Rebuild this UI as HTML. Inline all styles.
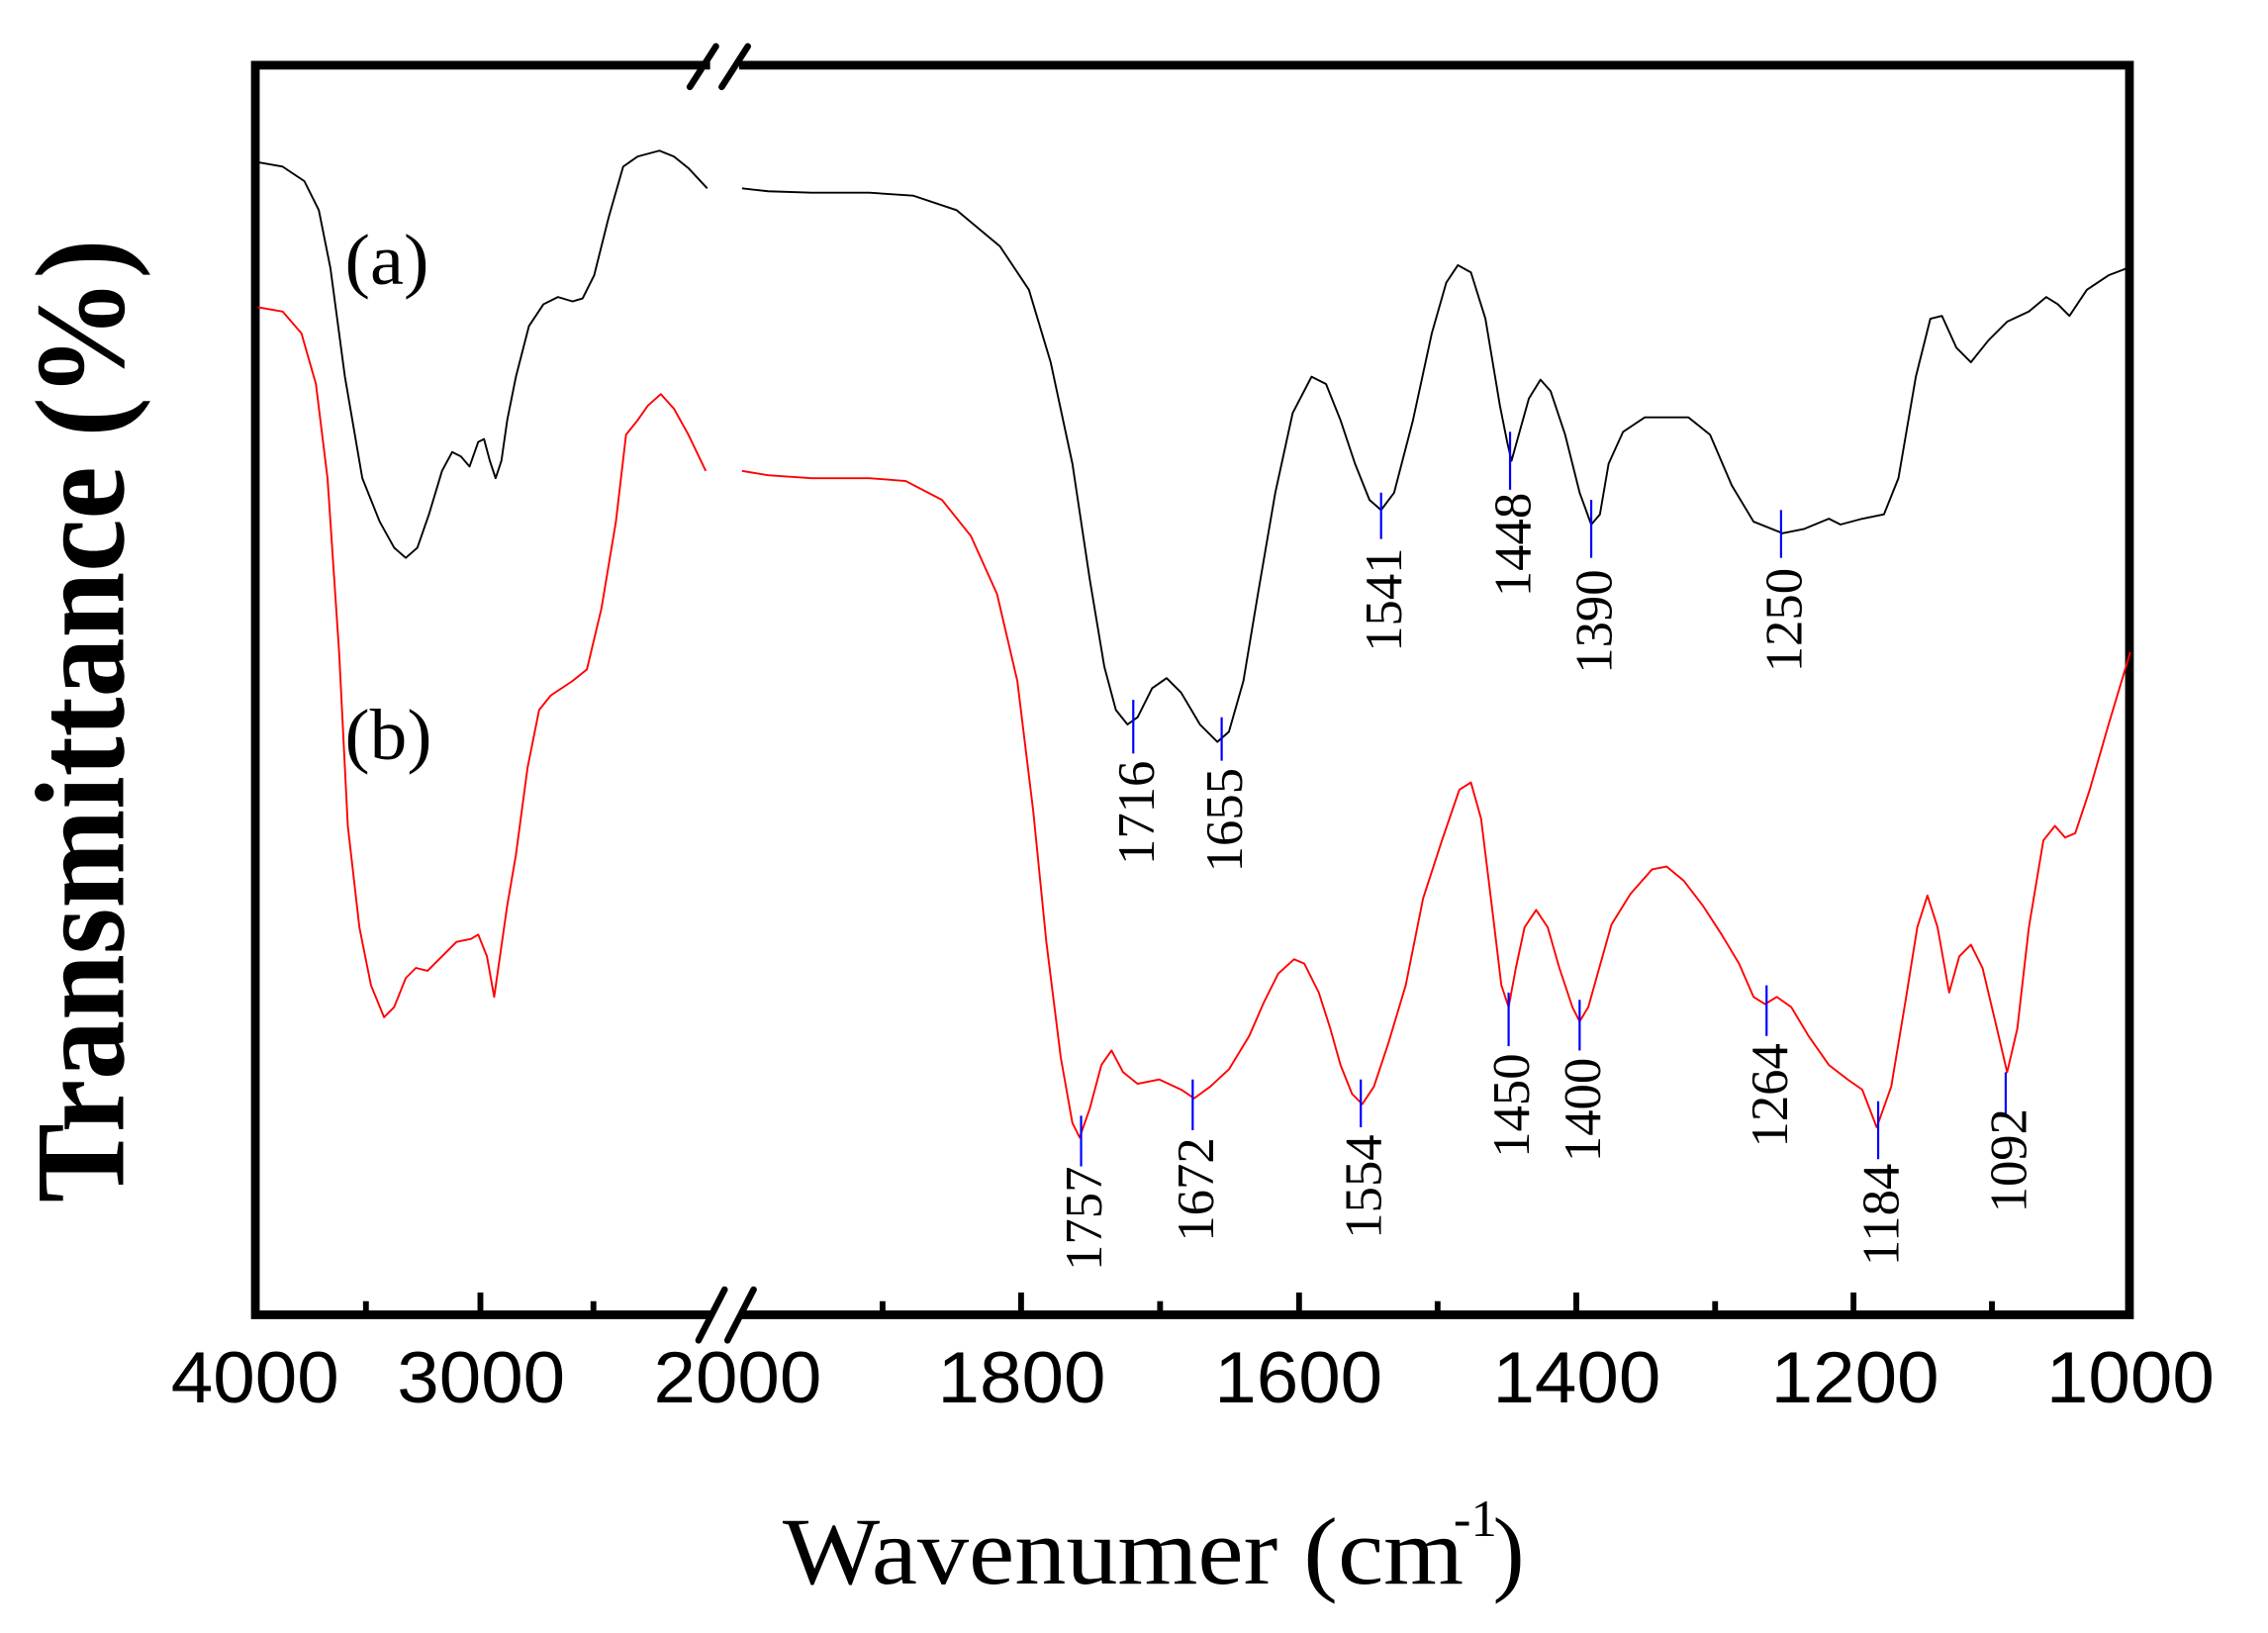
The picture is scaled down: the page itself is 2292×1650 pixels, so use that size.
<!DOCTYPE html>
<html><head><meta charset="utf-8"><style>html,body{margin:0;padding:0;background:#fff}svg{display:block}</style></head>
<body>
<svg width="2292" height="1650" viewBox="0 0 1565 1127" preserveAspectRatio="none" xmlns="http://www.w3.org/2000/svg">
<rect width="1565" height="1127" fill="#fff"/>
<rect x="176.2" y="45" width="1293.2" height="862.4" fill="none" stroke="#000" stroke-width="6"/>
<rect x="490" y="38" width="20" height="14" fill="#fff"/>
<rect x="490" y="900" width="20" height="14" fill="#fff"/>
<g stroke="#000" stroke-width="4.5" stroke-linecap="round">
<line x1="476" y1="60" x2="494" y2="32"/><line x1="498" y1="60" x2="516" y2="32"/>
<line x1="482" y1="925" x2="500" y2="890"/><line x1="502" y1="925" x2="520" y2="890"/>
</g>
<g stroke="#000" stroke-width="4">
<line x1="252.5" y1="907" x2="252.5" y2="898"/>
<line x1="331.5" y1="907" x2="331.5" y2="892"/>
<line x1="409.5" y1="907" x2="409.5" y2="898"/>
<line x1="609" y1="907" x2="609" y2="898"/>
<line x1="704.6" y1="907" x2="704.6" y2="892"/>
<line x1="800.5" y1="907" x2="800.5" y2="898"/>
<line x1="896.4" y1="907" x2="896.4" y2="892"/>
<line x1="992" y1="907" x2="992" y2="898"/>
<line x1="1087.7" y1="907" x2="1087.7" y2="892"/>
<line x1="1183.5" y1="907" x2="1183.5" y2="898"/>
<line x1="1279" y1="907" x2="1279" y2="892"/>
<line x1="1374.5" y1="907" x2="1374.5" y2="898"/>
</g>
<g font-family="Liberation Sans, sans-serif" font-size="50" text-anchor="middle" fill="#000">
<text x="176" y="968" textLength="116" lengthAdjust="spacingAndGlyphs">4000</text>
<text x="332" y="968" textLength="116" lengthAdjust="spacingAndGlyphs">3000</text>
<text x="509" y="968" textLength="116" lengthAdjust="spacingAndGlyphs">2000</text>
<text x="705" y="968" textLength="116" lengthAdjust="spacingAndGlyphs">1800</text>
<text x="896" y="968" textLength="116" lengthAdjust="spacingAndGlyphs">1600</text>
<text x="1088" y="968" textLength="116" lengthAdjust="spacingAndGlyphs">1400</text>
<text x="1280" y="968" textLength="116" lengthAdjust="spacingAndGlyphs">1200</text>
<text x="1470" y="968" textLength="116" lengthAdjust="spacingAndGlyphs">1000</text>
</g>
<text x="540" y="1093" font-family="Liberation Serif, serif" font-size="66" textLength="470" lengthAdjust="spacingAndGlyphs">Wavenumer (cm</text>
<text x="1003" y="1060" font-family="Liberation Serif, serif" font-size="36">-1</text>
<text x="1030" y="1093" font-family="Liberation Serif, serif" font-size="66">)</text>
<text transform="translate(85,830) rotate(-90)" font-family="Liberation Serif, serif" font-weight="bold" font-size="88" textLength="665" lengthAdjust="spacingAndGlyphs">Transmittance (%)</text>
<text x="238" y="196" font-family="Liberation Serif, serif" font-size="50" textLength="58" lengthAdjust="spacingAndGlyphs">(a)</text>
<text x="238" y="524" font-family="Liberation Serif, serif" font-size="50" textLength="60" lengthAdjust="spacingAndGlyphs">(b)</text>
<g fill="none" stroke-width="1.3" stroke-linejoin="round">
<polyline stroke="#000" points="178,112 195,115 210,125 220,145 228,185 238,260 250,330 262,360 272,378 280,385 288,378 296,355 305,325 312,312 318,315 324,322 330,305 334,303 338,318 342,330 346,318 350,290 356,260 365,225 375,210 385,205 395,208 402,206 410,190 420,150 430,115 440,108 455,104 465,108 475,116 488,130"/>
<polyline stroke="#000" points="512,130 530,132 560,133 600,133 630,135 660,145 690,170 710,200 725,250 740,320 752,400 762,460 770,490 778,500 785,495 795,475 805,468 815,478 828,500 840,512 848,505 858,470 868,410 880,340 892,285 905,260 915,265 925,290 935,320 945,345 953,352 962,340 975,290 988,230 998,195 1006,183 1015,188 1025,220 1035,280 1040,305 1043,318 1048,300 1055,275 1063,262 1070,270 1080,300 1090,340 1098,362 1104,355 1110,320 1120,298 1135,288 1165,288 1180,300 1195,335 1210,360 1230,368 1245,365 1262,358 1270,362 1285,358 1300,355 1310,330 1322,260 1332,220 1340,218 1350,240 1360,250 1372,235 1385,222 1400,215 1412,205 1420,210 1428,218 1440,200 1455,190 1468,185"/>
<polyline stroke="#f00" points="178,212 195,215 208,230 218,265 226,330 234,450 240,570 248,640 256,680 265,702 272,695 280,675 287,668 295,670 305,660 315,650 325,648 330,645 336,660 341,688 345,660 350,625 356,590 364,530 372,490 380,480 395,470 405,462 415,420 425,360 432,300 440,290 447,280 456,272 465,282 475,300 487,325"/>
<polyline stroke="#f00" points="512,325 530,328 560,330 600,330 625,332 650,345 670,370 688,410 702,470 713,560 722,650 732,730 740,775 745,785 752,765 760,735 767,725 775,740 785,748 800,745 815,752 824,758 835,750 848,738 862,715 872,692 882,672 893,662 900,665 910,685 918,710 925,735 933,755 940,762 948,750 958,720 970,680 982,620 995,580 1007,545 1015,540 1022,565 1030,630 1036,680 1041,695 1046,668 1052,640 1060,628 1068,640 1076,668 1085,695 1090,705 1096,695 1103,670 1112,638 1125,617 1140,600 1150,598 1162,608 1175,625 1188,645 1200,665 1210,688 1218,693 1226,688 1236,695 1248,715 1262,735 1275,745 1285,752 1295,778 1305,750 1315,690 1323,640 1330,618 1337,640 1345,685 1352,660 1360,652 1368,668 1378,710 1385,740 1392,710 1400,640 1410,580 1418,570 1425,578 1432,575 1442,545 1455,500 1470,450"/>
</g>
<g stroke="#00f" stroke-width="1.5">
<line x1="782" y1="483" x2="782" y2="520"/><line x1="843" y1="495" x2="843" y2="525"/>
<line x1="953" y1="340" x2="953" y2="372"/><line x1="1042" y1="298" x2="1042" y2="338"/>
<line x1="1098" y1="345" x2="1098" y2="385"/><line x1="1229" y1="352" x2="1229" y2="385"/>
<line x1="746" y1="770" x2="746" y2="805"/><line x1="823" y1="745" x2="823" y2="780"/>
<line x1="939" y1="745" x2="939" y2="778"/><line x1="1041" y1="685" x2="1041" y2="722"/>
<line x1="1090" y1="690" x2="1090" y2="725"/><line x1="1219" y1="680" x2="1219" y2="715"/>
<line x1="1296" y1="760" x2="1296" y2="800"/><line x1="1384" y1="740" x2="1384" y2="770"/>
</g>
<g font-family="Liberation Serif, serif" font-size="36" fill="#000" text-anchor="end">
<text transform="translate(796,525) rotate(-90)">1716</text>
<text transform="translate(857,530) rotate(-90)">1655</text>
<text transform="translate(967,378) rotate(-90)">1541</text>
<text transform="translate(1056,340) rotate(-90)">1448</text>
<text transform="translate(1112,393) rotate(-90)">1390</text>
<text transform="translate(1243,392) rotate(-90)">1250</text>
<text transform="translate(760,805) rotate(-90)">1757</text>
<text transform="translate(837,785) rotate(-90)">1672</text>
<text transform="translate(953,783) rotate(-90)">1554</text>
<text transform="translate(1055,727) rotate(-90)">1450</text>
<text transform="translate(1104,730) rotate(-90)">1400</text>
<text transform="translate(1233,720) rotate(-90)">1264</text>
<text transform="translate(1310,803) rotate(-90)">1184</text>
<text transform="translate(1398,765) rotate(-90)">1092</text>
</g>
</svg>
</body></html>
